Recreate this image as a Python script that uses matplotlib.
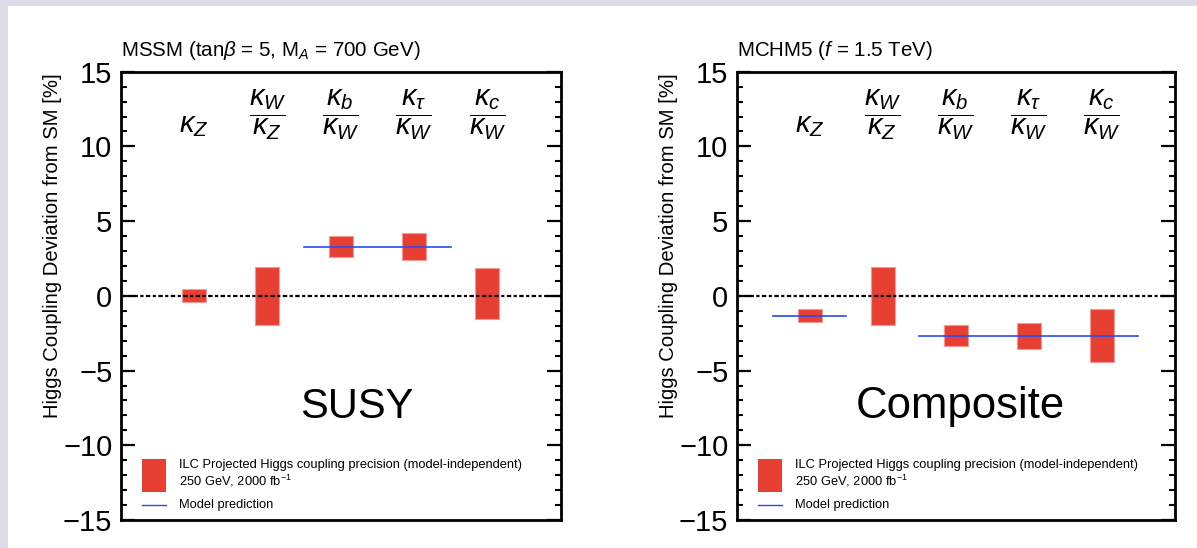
import matplotlib
matplotlib.use("Agg")
import matplotlib.pyplot as plt
from matplotlib.patches import Rectangle
from matplotlib.lines import Line2D
from matplotlib.ticker import MultipleLocator

plt.rcParams["font.family"] = ["Liberation Sans", "DejaVu Sans"]
plt.rcParams["mathtext.fontset"] = "custom"
plt.rcParams["mathtext.rm"] = "Liberation Sans"
plt.rcParams["mathtext.it"] = "Liberation Sans:italic"
plt.rcParams["mathtext.bf"] = "Liberation Sans:bold"

# ---- data -------------------------------------------------------------
categories = [r"$\kappa_Z$", r"$\dfrac{\kappa_W}{\kappa_Z}$", r"$\dfrac{\kappa_b}{\kappa_W}$",
              r"$\dfrac{\kappa_\tau}{\kappa_W}$", r"$\dfrac{\kappa_c}{\kappa_W}$"]
positions = [1, 2, 3, 4, 5]

# ILC projected precision bands (bottom, top) in %
susy_low  = [-0.42, -1.95, 2.60, 2.40, -1.57]
susy_high = [0.44, 1.95, 4.01, 4.19, 1.85]
comp_low  = [-1.77, -1.95, -3.37, -3.55, -4.42]
comp_high = [-0.90, 1.95, -1.97, -1.79, -0.90]

# model prediction segments: (x start, x end, value)
susy_model = [(2.5, 4.5, 3.27)]
comp_model = [(0.5, 1.5, -1.37), (2.5, 5.5, -2.70)]

titles = [r"MSSM (tan$\beta$ = 5, M$_A$ = 700 GeV)", r"MCHM5 ($f$ = 1.5 TeV)"]
big_labels = ["SUSY", "Composite"]
big_x = [3.22, 3.07]
big_size = [30, 31.5]

RED = "#e83f33"
BLUE = "#2a4cf0"

fig = plt.figure(figsize=(11.97, 5.48), dpi=100)
fig.patch.set_facecolor("#dcdde8")
fig.patches.append(Rectangle((8 / 1197, 0), 1, (548 - 6) / 548, transform=fig.transFigure,
                             facecolor="white", edgecolor="none", zorder=-10))

ax_l = fig.add_axes([120.7 / 1197, 28 / 548, 440 / 1197, 448.3 / 548])
ax_r = fig.add_axes([736.7 / 1197, 28 / 548, 438 / 1197, 448.3 / 548])

panels = [
    (ax_l, susy_low, susy_high, susy_model),
    (ax_r, comp_low, comp_high, comp_model),
]

for i, (ax, low, high, model) in enumerate(panels):
    ax.set_facecolor("white")
    heights = [h - l for l, h in zip(low, high)]
    ax.bar(positions, heights, bottom=low, width=0.33, color=RED,
           edgecolor="#f49a92", linewidth=0.8, zorder=2)
    ax.axhline(0, color="black", linewidth=1.6, dashes=(2.0, 1.1, 1.4, 1.1), zorder=3)
    for x0, x1, v in model:
        ax.plot([x0, x1], [v, v], color=BLUE, linewidth=1.2, zorder=4)

    for x, lab in zip(positions, categories):
        y = 11.4 if x == 1 else 12.1
        ax.text(x, y, lab, ha="center", va="center", fontsize=21)

    ax.text(big_x[i], -8.15, big_labels[i], ha="center", va="baseline", fontsize=big_size[i])

    ax.set_xlim(0, 6)
    ax.set_ylim(-15, 15)
    ax.set_xticks([])
    ax.yaxis.set_major_locator(MultipleLocator(5))
    ax.yaxis.set_minor_locator(MultipleLocator(1))
    ax.tick_params(axis="y", which="major", direction="in", length=10, width=1.6,
                   left=True, right=True, labelsize=21, pad=6)
    ax.tick_params(axis="y", which="minor", direction="in", length=4.5, width=1.5,
                   left=True, right=True)
    for sp in ax.spines.values():
        sp.set_linewidth(2.0)

    ax.text(0.0, 1.035, titles[i], transform=ax.transAxes, ha="left", va="baseline",
            fontsize=14.8)
    ax.text(-0.155, 0.612, "Higgs Coupling Deviation from SM [%]", transform=ax.transAxes,
            rotation=90, ha="center", va="center", fontsize=14.6)

    # legend
    ax.add_patch(Rectangle((0.0477, 0.0618), 0.0546, 0.0736, transform=ax.transAxes,
                           facecolor=RED, edgecolor="none", zorder=5))
    ax.add_line(Line2D([0.0477, 0.1023], [0.0335, 0.0335], transform=ax.transAxes,
                       color=BLUE, linewidth=1.0, zorder=5))
    ax.text(0.1325, 0.1153, "ILC Projected Higgs coupling precision (model-independent)",
            transform=ax.transAxes, fontsize=9.3, va="baseline")
    ax.text(0.1325, 0.0765, r"250 GeV, 2000 fb$^{\mathregular{-1}}$",
            transform=ax.transAxes, fontsize=9.3, va="baseline")
    ax.text(0.1325, 0.0274, "Model prediction",
            transform=ax.transAxes, fontsize=9.3, va="baseline")

fig.savefig("out.png", dpi=100, facecolor=fig.get_facecolor())
